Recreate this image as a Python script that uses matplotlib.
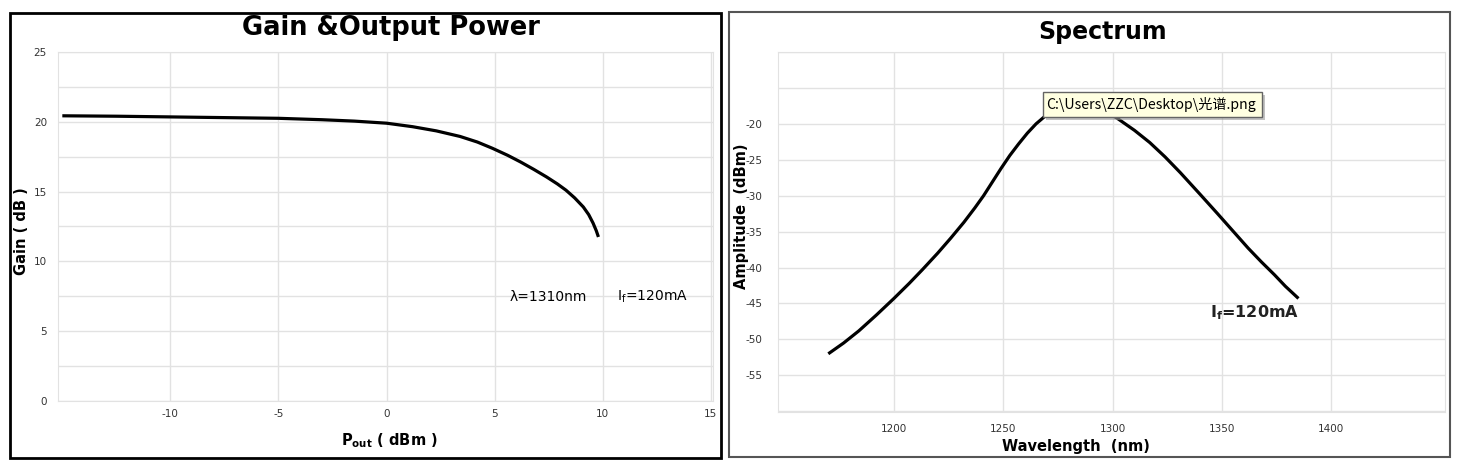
import matplotlib.pyplot as plt
from matplotlib.patches import Rectangle

plt.rcParams['axes.unicode_minus'] = False

# Gain vs output power (left panel)
pout = [-15, -12.5, -10, -7.5, -5, -3, -1.5, 0, 1.2, 2.3, 3.4, 4.2, 4.9, 5.6, 6.2,
        6.8, 7.4, 7.9, 8.3, 8.7, 9.1, 9.35, 9.55, 9.7, 9.8]
gain = [20.43, 20.4, 20.35, 20.3, 20.25, 20.15, 20.05, 19.9, 19.65, 19.35, 18.95, 18.55,
        18.1, 17.6, 17.12, 16.6, 16.05, 15.55, 15.1, 14.55, 13.9, 13.35, 12.75, 12.2, 11.75]
gain_yticks = [0, 2.5, 5, 7.5, 10, 12.5, 15, 17.5, 20, 22.5, 25]
gain_ylabels = ['0', '', '5', '', '10', '', '15', '', '20', '', '25']
pout_xticks = [-10, -5, 0, 5, 10, 15]

# Spectrum (right panel)
wavelength = [1170, 1177, 1184, 1192, 1200, 1207, 1213, 1220, 1226, 1232, 1237, 1241,
              1245, 1249, 1253, 1257, 1261, 1265, 1270, 1277, 1285, 1293, 1302, 1310,
              1317, 1324, 1331, 1340, 1348, 1355, 1362, 1368, 1374, 1379, 1385]
amplitude = [-52.0, -50.5, -48.8, -46.6, -44.3, -42.2, -40.3, -38.0, -35.9, -33.7, -31.7,
             -30.0, -28.1, -26.2, -24.4, -22.8, -21.3, -20.0, -18.7, -17.5, -17.0, -17.6,
             -19.2, -20.9, -22.6, -24.6, -26.8, -29.8, -32.5, -34.9, -37.3, -39.2, -41.0,
             -42.6, -44.3]
amp_yticks = [-60, -55, -50, -45, -40, -35, -30, -25, -20, -15, -10]
amp_ylabels = ['', '-55', '-50', '-45', '-40', '-35', '-30', '-25', '-20', '', '']
wl_xticks = [1200, 1250, 1300, 1350, 1400]

W, H = 1470, 466
fig = plt.figure(figsize=(W / 100, H / 100), dpi=100)

def fx(px):
    return px / W

def fy(py):
    return 1 - py / H

tick_font = ['Liberation Sans Narrow', 'DejaVu Sans']
grid_col = '#e2e2e2'

# panel borders
fig.patches.append(Rectangle((fx(10), fy(458)), fx(711), (458 - 13) / H, transform=fig.transFigure,
                             fill=False, edgecolor='black', linewidth=2))
fig.patches.append(Rectangle((fx(729), fy(457)), fx(721), (457 - 12) / H, transform=fig.transFigure,
                             fill=False, edgecolor='#555555', linewidth=1.5))

def style_axes(ax):
    ax.grid(True, color=grid_col, linewidth=1)
    ax.set_axisbelow(True)
    for s in ax.spines.values():
        s.set_color(grid_col)
    ax.tick_params(length=0, labelsize=7.5, labelcolor='#333333')
    for lab in ax.get_xticklabels() + ax.get_yticklabels():
        lab.set_family(tick_font)

# ---- left: gain ----
ax1 = fig.add_axes([fx(58), fy(401), (713 - 58) / W, (401 - 52) / H])
ax1.plot(pout, gain, color='black', linewidth=2.3, solid_capstyle='butt')
ax1.set_xlim(-15.2, 15.1)
ax1.set_ylim(0, 25)
ax1.set_yticks(gain_yticks)
ax1.set_yticklabels(gain_ylabels)
ax1.set_xticks(pout_xticks)
ax1.tick_params(axis='y', pad=8)
ax1.tick_params(axis='x', pad=6)
style_axes(ax1)
fig.text(fx(391), fy(28), 'Gain &Output Power', ha='center', va='center',
         fontsize=18.5, fontweight='bold')
fig.text(fx(22), fy(231), 'Gain ( dB )', ha='center', va='center', rotation=90,
         fontsize=10.5, fontweight='bold')
fig.text(fx(389), fy(441), r'P$_{\mathregular{out}}$ ( dBm )', ha='center', va='center',
         fontsize=10.5, fontweight='bold')
fig.text(fx(510), fy(297), '\u03bb=1310nm', ha='left', va='center', fontsize=10)
fig.text(fx(617), fy(297), r'I$_{\mathregular{f}}$=120mA', ha='left', va='center', fontsize=10)

# ---- right: spectrum ----
ax2 = fig.add_axes([fx(778), fy(412), (1445 - 778) / W, (412 - 52) / H])
ax2.plot(wavelength, amplitude, color='black', linewidth=2.3, solid_capstyle='butt')
ax2.set_xlim(1147, 1452)
ax2.set_ylim(-60.1, -10.1)
ax2.set_yticks(amp_yticks)
ax2.set_yticklabels(amp_ylabels)
ax2.set_xticks(wl_xticks)
ax2.tick_params(axis='y', pad=11)
ax2.tick_params(axis='x', pad=9)
style_axes(ax2)
fig.text(fx(1103), fy(32), 'Spectrum', ha='center', va='center', fontsize=17, fontweight='bold')
fig.text(fx(741), fy(216), 'Amplitude  (dBm)', ha='center', va='center', rotation=90,
         fontsize=10.5, fontweight='bold')
fig.text(fx(1076), fy(447), 'Wavelength  (nm)', ha='center', va='center',
         fontsize=10.5, fontweight='bold')
fig.text(fx(1210), fy(313), r'I$_{\mathregular{f}}$=120mA', ha='left', va='center',
         fontsize=11.5, fontweight='bold', color='#222222')

# tooltip with shadow
fig.patches.append(Rectangle((fx(1046), fy(120)), (1262 - 1043) / W, 25 / H, transform=fig.transFigure,
                             facecolor='#9a9a9a', edgecolor='none', alpha=0.6, zorder=5))
fig.patches.append(Rectangle((fx(1043), fy(117)), (1262 - 1043) / W, 25 / H, transform=fig.transFigure,
                             facecolor='#ffffe1', edgecolor='#646464', linewidth=1, zorder=6))
tip = fig.text(fx(1046), fy(104.5), 'C:\\Users\\ZZC\\Desktop\\光谱.png', ha='left', va='center',
               fontsize=10.2, family=['Noto Sans CJK SC', 'DejaVu Sans'], zorder=7)

fig.savefig('out.png', dpi=100)
